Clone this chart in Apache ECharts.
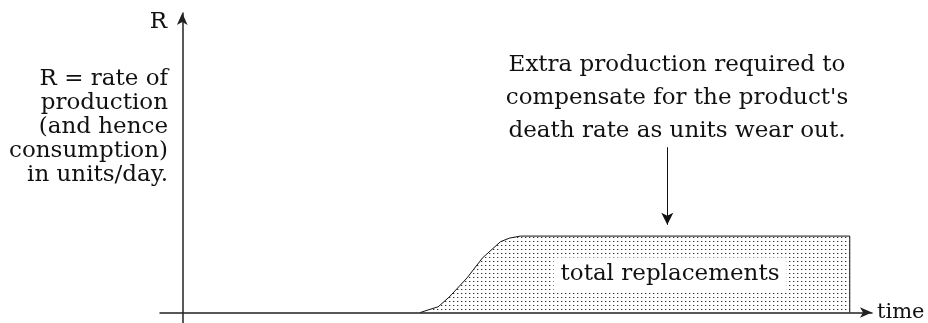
<!DOCTYPE html>
<html>
<head>
<meta charset="utf-8">
<script src="https://cdn.jsdelivr.net/npm/echarts@6/dist/echarts.min.js"></script>
<style>
  html, body { margin: 0; padding: 0; background: #fff; }
  #chart { width: 928px; height: 323px; }
</style>
</head>
<body>
<div id="chart"></div>
<script>
// production rate curve (time in arbitrary units, R in arbitrary units)
var timeVals = [10.7, 11.05, 11.5, 12.0, 12.8, 13.5, 14.3, 14.7, 15.2, 30.0, 30.0];
var rateVals = [0, 0.25, 0.55, 1.5, 3.35, 5.3, 6.85, 7.2, 7.4, 7.4, 0];

var leftNote = ['R = rate of', 'production', '(and hence', 'consumption)', 'in units/day.'];
var topNote = ['Extra production required to', "compensate for the product's", 'death rate as units wear out.'];

var FONT = 'DejaVu Serif';

// stipple fill
var pat = document.createElement('canvas');
pat.width = 4; pat.height = 4;
var pctx = pat.getContext('2d');
pctx.fillStyle = '#333';
pctx.fillRect(1, 1, 1, 1);
pctx.fillStyle = '#bbb';
pctx.fillRect(2, 1, 1, 1);

var curve = timeVals.map(function (t, i) { return [t, rateVals[i]]; });

var myChart = echarts.init(document.getElementById('chart'));

var graphics = [];
graphics.push({
    type: 'text', x: 167, y: 22,
    style: { text: 'R', font: '23px "' + FONT + '"', fill: '#111', textAlign: 'right', textVerticalAlign: 'middle' }
});
graphics.push({
    type: 'text', x: 168, y: 67,
    style: { text: leftNote.join('\n'), font: '23px "' + FONT + '"', lineHeight: 24, fill: '#111', textAlign: 'right', textVerticalAlign: 'top' }
});
graphics.push({
    type: 'text', x: 677, y: 49,
    style: { text: topNote.join('\n'), font: '23px "' + FONT + '"', lineHeight: 33, fill: '#111', textAlign: 'center', textVerticalAlign: 'top' }
});
graphics.push({
    type: 'text', x: 670, y: 274, z: 100,
    style: { text: 'total replacements', font: '23px "' + FONT + '"', fill: '#111', textAlign: 'center', textVerticalAlign: 'middle',
             backgroundColor: '#fff', padding: [4, 7, 6, 7] }
});

var option = {
    animation: false,
    backgroundColor: '#fff',
    grid: { left: 160, right: 56, top: 13, bottom: 0 },
    xAxis: {
        type: 'value', min: -1, max: 31,
        name: 'time', nameLocation: 'end', nameGap: 5,
        nameTextStyle: { fontFamily: FONT, fontSize: 21, color: '#111' },
        axisLine: { onZero: true, symbol: ['none', 'arrow'], symbolSize: [8, 12], lineStyle: { color: '#222', width: 1.5 } },
        axisTick: { show: false }, axisLabel: { show: false }, splitLine: { show: false }
    },
    yAxis: {
        type: 'value', min: -1, max: 29,
        axisLine: { onZero: true, symbol: ['none', 'arrow'], symbolSize: [8, 12], lineStyle: { color: '#222', width: 1.5 } },
        axisTick: { show: false }, axisLabel: { show: false }, splitLine: { show: false }
    },
    series: [{
        type: 'line',
        data: curve,
        symbol: 'none',
        lineStyle: { color: '#111', width: 1 },
        areaStyle: { color: { image: pat, repeat: 'repeat' }, opacity: 1 },
        markLine: {
            silent: true,
            symbol: ['none', 'arrow'],
            symbolSize: [9, 12],
            label: { show: false },
            lineStyle: { color: '#111', width: 1, type: 'solid' },
            data: [[{ coord: [21.8, 16.0] }, { coord: [21.8, 8.5] }]]
        }
    }],
    graphic: graphics
};
myChart.setOption(option);
</script>
</body>
</html>
